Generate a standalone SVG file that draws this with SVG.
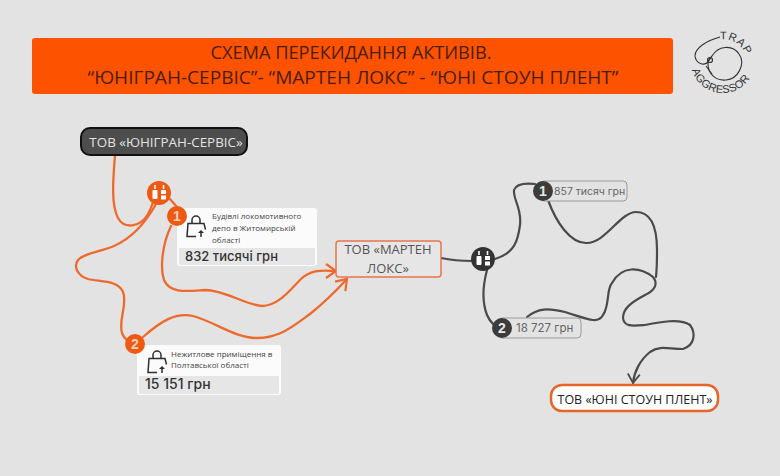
<svg xmlns="http://www.w3.org/2000/svg" width="780" height="476" viewBox="0 0 780 476">
<style>
text{font-family:"Open Sans","Noto Sans","Liberation Sans",sans-serif;fill:#3a3a3a}
.o{fill:none;stroke:#ee6a2c;stroke-width:2.300;stroke-linecap:round;stroke-linejoin:round}
.d{fill:none;stroke:#4a4a4a;stroke-width:2.200;stroke-linecap:round;stroke-linejoin:round}
.small{font-size:8px;fill:#444}
.amt{font-family:"Inter","Noto Sans",sans-serif;font-size:13px;font-weight:500;fill:#333}
.lab{font-family:"Inter","Noto Sans",sans-serif;font-size:10.500px;fill:#666}
.num{font-family:"Liberation Sans",sans-serif;font-size:14px;font-weight:700;fill:#f6d0b5;text-anchor:middle}
.ico{fill:none;stroke:#2e2e2e;stroke-width:1.500}
.logo{font-family:"Liberation Sans",sans-serif;font-size:11px;fill:#333}
.head{font-size:18.300px;fill:#4a1e0c}
</style>
<rect width="780" height="476" fill="#e3e3e3"/>
<g id="title">
<rect x="32" y="38" width="641" height="56" rx="3" fill="#fd5200"/>
<text class="head" x="351" y="59" text-anchor="middle" textLength="281" lengthAdjust="spacingAndGlyphs">СХЕМА ПЕРЕКИДАННЯ АКТИВІВ.</text>
<text class="head" x="353" y="84" text-anchor="middle" textLength="531" lengthAdjust="spacingAndGlyphs">“ЮНІГРАН-СЕРВІС”- “МАРТЕН ЛОКС” - “ЮНІ СТОУН ПЛЕНТ”</text>
</g>
<g id="logo">
<defs>
<path id="arcTop" d="M720 39.500A23 23 0 0 1 746 57"/>
<path id="arcBot" d="M692 70A32 32 0 0 0 754 68"/>
</defs>
<path d="M720 37C706 41 695 48 695 56C696 64 704 66 708 62C710 60 710 58 712 56C718 46 732 44 739 54C746 64 738 79 726 80C716 81 708 74 708 64C708 61 709 59 710 58" fill="none" stroke="#333" stroke-width="1.100"/>
<path d="M706 66L712 74" fill="none" stroke="#333" stroke-width="1.100"/>
<circle cx="710" cy="60" r="2.500" fill="none" stroke="#333" stroke-width="1.200"/>
<text class="logo" letter-spacing=".8"><textPath href="#arcTop">TRAP</textPath></text>
<text class="logo" letter-spacing=".3"><textPath href="#arcBot">AGGRESSOR</textPath></text>
</g>
<g id="connectors">
<defs>
<marker id="ao" markerWidth="16" markerHeight="18" refX="12" refY="9" orient="auto" markerUnits="userSpaceOnUse"><path d="M2 2L12 9L2 16" fill="none" stroke="#ee6a2c" stroke-width="2.200"/></marker>
<marker id="ad" markerWidth="16" markerHeight="18" refX="12" refY="9" orient="auto" markerUnits="userSpaceOnUse"><path d="M3 3L12 9L3 15" fill="none" stroke="#4a4a4a" stroke-width="1.800"/></marker>
</defs>
<path class="o" d="M115 155C113 180 111 205 118 218C124 229 140 228 148 214C150 210 152 206 153 202"/>
<path class="o" d="M156 204C146 222 132 238 114 246C100 252 84 253 78 260C73 267 78 276 88 279C100 282 118 280 123 292C128 304 118 320 122 333C124 338 126 340 129 341"/>
<path class="o" d="M169 198L178 208"/>
<path class="o" d="M171 226C162 245 160 268 164 280C170 294 188 291 205 290C225 290 245 305 262 306C278 306 290 290 300 280C312 268 325 271 336 271" marker-end="url(#ao)"/>
<path class="o" d="M143 337C160 322 175 312 193 316C215 322 235 338 257 338C280 338 295 325 310 314C325 302 335 292 347 279" marker-end="url(#ao)"/>
<path class="d" d="M441 258C455 261 462 261 472 261"/>
<path class="d" d="M495 259C515 253 518 240 520 225C522 208 513 200 514 190C516 184 525 183 535 184"/>
<path class="d" d="M548 200C556 222 570 243 586 243C605 244 620 212 636 212C650 212 657 225 657 250C657 265 657 268 656 277"/>
<path class="d" d="M527 317C538 308 548 308 565 312C585 318 598 325 603 315C610 305 606 290 612 283C622 265 640 267 653 277C658 283 656 290 645 295C632 302 623 308 623 318C624 327 632 326 645 325C660 322 680 318 690 325C696 333 695 345 683 349C668 349 660 345 650 352C640 360 634 372 633 383" marker-end="url(#ad)"/>
<path class="d" d="M487 270C483 285 482 302 487 315C489 320 491 322 494 325"/>
</g>
<g id="node-unigran">
<rect x="81" y="128" width="166" height="27" rx="9" fill="#4d4d4d" stroke="#111" stroke-width="2"/>
<text x="166" y="147" text-anchor="middle" font-size="13.400" style="fill:#e2e2e2">ТОВ «ЮНІГРАН-СЕРВІС»</text>
</g>
<g id="split-orange">
<circle cx="159" cy="193" r="12" fill="#ee5a14"/>
<path d="M155 189v-4M163.500 189v-4" stroke="#fff" stroke-width="1.600"/>
<rect x="152.500" y="190" width="5" height="9" rx="1" fill="#fff"/><rect x="161" y="190" width="5" height="4" fill="#fff"/><rect x="161" y="195.500" width="5" height="4" fill="#fff"/>
</g>
<g id="card-1">
<rect x="177" y="208" width="140" height="58" rx="3" fill="#fbfbfb"/>
<rect x="179" y="248" width="136" height="17" rx="1" fill="#e6e6e6"/>
<path class="ico" d="M192 223.500h12l1.500 6M192 223.500l-4 0-1 13h9M192 223v-3a4 4 0 0 1 8 0v3M201 237v-6"/>
<path d="M198 233l3-3 3 3z" fill="#2e2e2e"/>
<text class="small" x="212" y="219">Будівлі локомотивного</text>
<text class="small" x="212" y="231">депо в Житомирській</text>
<text class="small" x="212" y="243">області</text>
<text class="amt" x="185" y="261">832 тисячі грн</text>
</g>
<g id="badge-1-orange"><circle cx="177" cy="216" r="10" fill="#ee5a14"/><text class="num" x="177" y="221">1</text></g>
<g id="card-2">
<rect x="137" y="345" width="144" height="50" rx="3" fill="#fbfbfb"/>
<rect x="139" y="376" width="140" height="18" rx="1" fill="#e6e6e6"/>
<path class="ico" d="M153 358.500h12l1.500 6M153 358.500l-4 0-1 14h9M153 358v-3a4 4 0 0 1 8 0v3M162 373v-6"/>
<path d="M159 369l3-3 3 3z" fill="#2e2e2e"/>
<text class="small" x="171" y="357">Нежитлове приміщення  в</text>
<text class="small" x="171" y="368">Полтавської області</text>
<text class="amt" x="145" y="389" style="font-size:14px">15 151 грн</text>
</g>
<g id="badge-2-orange"><circle cx="135" cy="344" r="10" fill="#ee5a14"/><text class="num" x="135" y="349">2</text></g>
<g id="node-marten">
<rect x="336" y="241" width="105" height="36" rx="3" fill="#e6e6e6" stroke="#e8754a" stroke-width="1.500"/>
<text x="388" y="254" text-anchor="middle" font-size="13" style="fill:#555">ТОВ «МАРТЕН</text>
<text x="388" y="273" text-anchor="middle" font-size="13" style="fill:#555">ЛОКС»</text>
</g>
<g id="split-dark">
<circle cx="483" cy="259" r="12" fill="#333"/>
<path d="M479 255v-4M487.500 255v-4" stroke="#fff" stroke-width="1.600"/>
<rect x="476.500" y="256" width="5" height="9" rx="1" fill="#fff"/><rect x="485" y="256" width="5" height="4" fill="#fff"/><rect x="485" y="261.500" width="5" height="4" fill="#fff"/>
</g>
<g id="label-1">
<rect x="540" y="181" width="87" height="20" rx="4" fill="#e3e3e3" stroke="#9a9a9a"/>
<text class="lab" x="554" y="195">857 тисяч грн</text>
<circle cx="543" cy="191" r="10" fill="#3c3c3c"/><text class="num" style="fill:#e8e8e8" x="543" y="196">1</text>
</g>
<g id="label-2">
<rect x="498" y="318" width="83" height="20" rx="4" fill="#e3e3e3" stroke="#9a9a9a"/>
<text class="lab" x="516" y="332" style="font-size:11.500px">18 727 грн</text>
<circle cx="502" cy="328" r="10" fill="#3c3c3c"/><text class="num" style="fill:#e8e8e8" x="502" y="333">2</text>
</g>
<g id="node-uni-stone">
<rect x="551" y="385" width="167" height="26" rx="11" fill="#fff" stroke="#e8652a" stroke-width="2.500"/>
<text x="635" y="404" text-anchor="middle" font-size="12.500" style="fill:#222">ТОВ «ЮНІ СТОУН ПЛЕНТ»</text>
</g>
</svg>
